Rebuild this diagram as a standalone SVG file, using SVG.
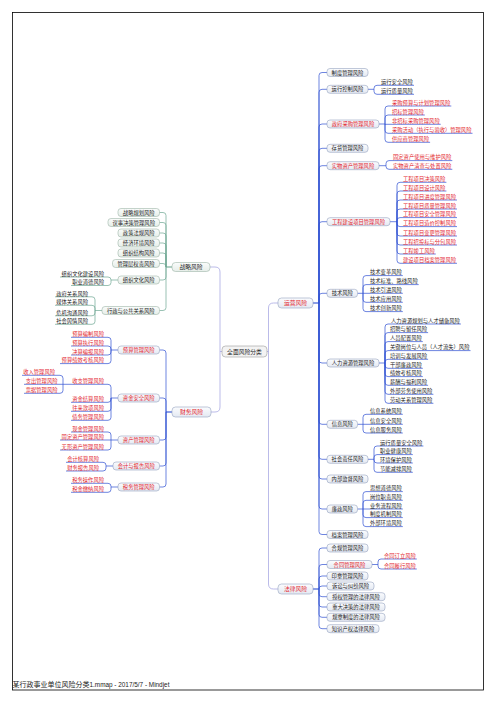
<svg xmlns="http://www.w3.org/2000/svg" width="496" height="702" viewBox="0 0 496 702">
<defs>
<linearGradient id="gb" x1="0" y1="0" x2="0" y2="1"><stop offset="0" stop-color="#fbfcfe"/><stop offset="1" stop-color="#e4e9f2"/></linearGradient>
<linearGradient id="gs" x1="0" y1="0" x2="0" y2="1"><stop offset="0" stop-color="#fafcfb"/><stop offset="1" stop-color="#e6eee9"/></linearGradient>
<style>
.b{fill:url(#gb);stroke:#95a2bf;stroke-width:0.6}
.bs{fill:url(#gs);stroke:#9db5a8;stroke-width:0.6}
.bc{fill:#f3f3f3;stroke:#9a9a9a;stroke-width:0.6}
.t{font-family:"Noto Sans CJK SC","Noto Sans",sans-serif;font-size:5.3px;fill:#222}
.m{text-anchor:middle}
.e{text-anchor:end}
.r{fill:#e3262e}
.k{font-size:5.8px}
.cs{fill:none;stroke:#6fa893;stroke-width:0.7}
.cf{fill:none;stroke:#2f50d2;stroke-width:0.7}
.cc{fill:none;stroke:#a9a9e3;stroke-width:0.8}
.cp{fill:none;stroke-width:1.1}
</style>
</defs>
<rect x="12.5" y="12.5" width="471" height="677.5" fill="none" stroke="#000" stroke-width="0.8"/>
<text x="12.5" y="687" style="font-family:'Noto Sans CJK SC','Liberation Sans',sans-serif;font-size:7px;fill:#222">某行政事业单位风险分类<tspan style="font-family:'Liberation Sans',sans-serif;font-size:6.4px">1.mmap - 2017/5/7 - Mindjet</tspan></text>

<g id="connectors">
<path class="cc" d="M210,267 H215 Q220,267 220,272 V407 Q220,412 215,412 H211 M222,351.5 H220"/>
<path class="cc" d="M278,303 H273.5 Q268.5,303 268.5,308 V584 Q268.5,589 273.5,589 H278 M267,351.5 H268.5"/>
<path class="cs cp" stroke="#3f7f6c" d="M172,267 H166"/>
<path class="cs" d="M166,267 V215.5 Q166,212.5 163,212.5 H159.5 M166,267 V225.5 Q166,222.5 163,222.5 H159.5 M166,267 V236 Q166,233 163,233 H159.5 M166,267 V246 Q166,243 163,243 H159.5 M166,267 V256 Q166,253 163,253 H159.5 M166,267 V266.5 Q166,263.5 163,263.5 H159.5 M166,267 V277 Q166,280 163,280 H159.5 M166,267 V307.5 Q166,310.5 163,310.5 H159.5"/>
<path class="cs" d="M118,280 H111 M111,280 Q111,277 108,277 H60 M111,280 V282.5 Q111,285.5 108,285.5 H71"/>
<path class="cs" d="M102,310.5 H95 M95,310.5 V299.8 Q95,296.8 92,296.8 H55 M95,310.5 V308.3 Q95,305.3 92,305.3 H55 M95,310.5 V312.8 Q95,315.8 92,315.8 H55 M95,310.5 V321.3 Q95,324.3 92,324.3 H55"/>
<path class="cf cp" d="M172,412 H166"/>
<path class="cf" d="M166,412 V353 Q166,350 163,350 H159.5 M166,412 V401 Q166,398 163,398 H159.5 M166,412 V437 Q166,440 163,440 H159.5 M166,412 V463 Q166,466 163,466 H159.5 M166,412 V484 Q166,487 163,487 H159.5"/>
<path class="cf" d="M118,350 H111 M111,350 V340.3 Q111,337.3 108,337.3 H71 M111,350 V349 Q111,346 108,346 H71 M111,350 V352 Q111,355 108,355 H71 M111,350 V360.6 Q111,363.6 108,363.6 H60"/>
<path class="cf" d="M118,398 H111 M111,398 V387.3 Q111,384.3 108,384.3 H63 M111,398 V399.3 Q111,402.3 108,402.3 H71 M111,398 V408.3 Q111,411.3 108,411.3 H71 M111,398 V417.3 Q111,420.3 108,420.3 H71"/>
<path class="cf" d="M63,384.3 V378.3 Q63,375.3 60,375.3 H22 M63,384.3 H24 M63,384.3 V390.3 Q63,393.3 60,393.3 H24"/>
<path class="cf" d="M118,440 H111 M111,440 V435 Q111,432 108,432 H71 M111,440 H60 M111,440 V447 Q111,450 108,450 H60"/>
<path class="cf" d="M113,466 H106 M106,466 V465.3 Q106,462.3 103,462.3 H66 M106,466 V468 Q106,471 103,471 H66"/>
<path class="cf" d="M118,487 H111 M111,487 V486.3 Q111,483.3 108,483.3 H71 M111,487 V489.3 Q111,492.3 108,492.3 H71"/>
<path class="cf cp" d="M313,303 H319"/>
<path class="cf" d="M319,303 V75.5 Q319,72.5 322,72.5 H327 M319,303 V92.3 Q319,89.3 322,89.3 H327 M319,303 V127 Q319,124 322,124 H327 M319,303 V151.3 Q319,148.3 322,148.3 H327 M319,303 V168.7 Q319,165.7 322,165.7 H327 M319,303 V224.7 Q319,221.7 322,221.7 H327 M319,303 V296.3 Q319,293.3 322,293.3 H327 M319,303 V360 Q319,363 322,363 H327 M319,303 V421.3 Q319,424.3 322,424.3 H327 M319,303 V456.3 Q319,459.3 322,459.3 H327 M319,303 V476 Q319,479 322,479 H327 M319,303 V506 Q319,509 322,509 H327 M319,303 V531.5 Q319,534.5 322,534.5 H327"/>
<path class="cf" d="M368,89.3 H374 M374,89.3 V88.3 Q374,85.3 377,85.3 H414 M374,89.3 V91.3 Q374,94.3 377,94.3 H414"/>
<path class="cf" d="M379,124 H385 M385,124 V109 Q385,106 388,106 H451.3 M385,124 V118 Q385,115 388,115 H424.8 M385,124 V124.3 H440.7 M385,124 V130.3 Q385,133.3 388,133.3 H472.5 M385,124 V139.3 Q385,142.3 388,142.3 H430.1"/>
<path class="cf" d="M379,165.7 H386 M386,165.7 V163.6 Q386,160.6 389,160.6 H452.3 M386,165.7 V166.3 Q386,169.3 389,169.3 H452.3"/>
<path class="cf" d="M390,221.7 H397 M397,221.7 V185.3 Q397,182.3 400,182.3 H446.4 M397,221.7 V194 Q397,191 400,191 H446.4 M397,221.7 V203 Q397,200 400,200 H457 M397,221.7 V212 Q397,209 400,209 H457 M397,221.7 V220.6 Q397,217.6 400,217.6 H457 M397,221.7 V223.6 Q397,226.6 400,226.6 H457 M397,221.7 V233 Q397,236 400,236 H457 M397,221.7 V242 Q397,245 400,245 H457 M397,221.7 V251 Q397,254 400,254 H435.8 M397,221.7 V260.3 Q397,263.3 400,263.3 H457"/>
<path class="cf" d="M357.5,293.3 H363 M363,293.3 V278.6 Q363,275.6 366,275.6 H402.8 M363,293.3 V287.6 Q363,284.6 366,284.6 H418.7 M363,293.3 H402.8 M363,293.3 V299.3 Q363,302.3 366,302.3 H402.8 M363,293.3 V308.6 Q363,311.6 366,311.6 H402.8"/>
<path class="cf" d="M379,363 H385 M385,363 V327 Q385,324 388,324 H460.9 M385,363 V335.6 Q385,332.6 388,332.6 H428.1 M385,363 V344.6 Q385,341.6 388,341.6 H422.8 M385,363 V353.6 Q385,350.6 388,350.6 H470.5 M385,363 V362.3 Q385,359.3 388,359.3 H428.1 M385,363 V365.3 Q385,368.3 388,368.3 H422.8 M385,363 V373.6 Q385,376.6 388,376.6 H422.8 M385,363 V382.3 Q385,385.3 388,385.3 H428.1 M385,363 V391.3 Q385,394.3 388,394.3 H433.4 M385,363 V400.3 Q385,403.3 388,403.3 H433.4"/>
<path class="cf" d="M357.5,424.3 H363 M363,424.3 V417.3 Q363,414.3 366,414.3 H402.8 M363,424.3 H402.8 M363,424.3 V430 Q363,433 366,433 H402.8"/>
<path class="cf" d="M368,459.3 H374 M374,459.3 V449 Q374,446 377,446 H423.4 M374,459.3 V457.6 Q374,454.6 377,454.6 H412.8 M374,459.3 V460 Q374,463 377,463 H412.8 M374,459.3 V469.3 Q374,472.3 377,472.3 H412.8"/>
<path class="cf" d="M357.5,509 H363 M363,509 V494.6 Q363,491.6 366,491.6 H402.8 M363,509 V503.3 Q363,500.3 366,500.3 H402.8 M363,509 H402.8 M363,509 V514.6 Q363,517.6 366,517.6 H402.8 M363,509 V523.6 Q363,526.6 366,526.6 H402.8"/>
<path class="cf cp" d="M313,589 H319"/>
<path class="cf" d="M319,589 V551 Q319,548 322,548 H327 M319,589 V567.5 Q319,564.5 322,564.5 H327 M319,589 V579 Q319,576 322,576 H327 M319,589 Q319,586 322,586 H327 M319,589 V593.7 Q319,596.7 322,596.7 H327 M319,589 V604 Q319,607 322,607 H327 M319,589 V614.3 Q319,617.3 322,617.3 H327 M319,589 V625.7 Q319,628.7 322,628.7 H327"/>
<path class="cf" d="M372,564.5 H378 M378,564.5 V562 Q378,559 381,559 H416.8 M378,564.5 V566 Q378,569 381,569 H416.8"/>
</g>

<g id="root"><rect class="bc" x="222" y="346" width="45" height="11" rx="3.5"/><text class="t m k" x="244.5" y="353.6">全面风险分类</text></g>

<g id="n-zl"><rect class="bs" x="172" y="262.5" width="38" height="9" rx="3.5"/><text class="t m k" x="191" y="269.1">战略风险</text></g>
<g id="n-zl1"><rect class="bs" x="118" y="208.5" width="41.5" height="8" rx="3"/><text class="t m" x="138.75" y="214.5">战略规划风险</text></g>
<g id="n-zl2"><rect class="bs" x="108" y="218.5" width="51.5" height="8" rx="3"/><text class="t m" x="133.75" y="224.5">议事决策管理风险</text></g>
<g id="n-zl3"><rect class="bs" x="118" y="229" width="41.5" height="8" rx="3"/><text class="t m" x="138.75" y="235">政策法规风险</text></g>
<g id="n-zl4"><rect class="bs" x="118" y="239" width="41.5" height="8" rx="3"/><text class="t m" x="138.75" y="245">经济环境风险</text></g>
<g id="n-zl5"><rect class="bs" x="118" y="249" width="41.5" height="8" rx="3"/><text class="t m" x="138.75" y="255">组织结构风险</text></g>
<g id="n-zl6"><rect class="bs" x="112.5" y="259.5" width="47" height="8" rx="3"/><text class="t m" x="136" y="265.5">管理层权责风险</text></g>
<g id="n-zl7"><rect class="bs" x="118" y="276" width="41.5" height="8" rx="3"/><text class="t m" x="138.75" y="282">组织文化风险</text></g>
<g id="n-zl7a"><text class="t e" x="104" y="276">组织文化建设风险</text></g>
<g id="n-zl7b"><text class="t e" x="104" y="284">职业道德风险</text></g>
<g id="n-zl8"><rect class="bs" x="102" y="306.5" width="57.5" height="8" rx="3"/><text class="t m" x="130.75" y="312.5">行政与公共关系风险</text></g>
<g id="n-zl8a"><text class="t e" x="88" y="295.5">政府关系风险</text></g>
<g id="n-zl8b"><text class="t e" x="88" y="304">媒体关系风险</text></g>
<g id="n-zl8c"><text class="t e" x="88" y="314.5">危机沟通风险</text></g>
<g id="n-zl8d"><text class="t e" x="88" y="323">社会舆情风险</text></g>

<g id="n-cw"><rect class="b" x="172" y="407" width="39" height="10" rx="3.5"/><text class="t m k r" x="191.5" y="414.1">财务风险</text></g>
<g id="n-cw1"><rect class="b" x="118" y="346" width="41.5" height="8" rx="3"/><text class="t m r" x="138.75" y="352">预算管理风险</text></g>
<g id="n-cw1a"><text class="t e r" x="104" y="336">预算编制风险</text></g>
<g id="n-cw1b"><text class="t e r" x="104" y="344.7">预算执行风险</text></g>
<g id="n-cw1c"><text class="t e r" x="104" y="353.7">决算编报风险</text></g>
<g id="n-cw1d"><text class="t e r" x="104" y="362.3">预算绩效考核风险</text></g>
<g id="n-cw2"><rect class="b" x="118" y="394" width="41.5" height="8" rx="3"/><text class="t m r" x="138.75" y="400">资金安全风险</text></g>
<g id="n-cw2a"><text class="t e r" x="104" y="383">收支管理风险</text></g>
<g id="n-cw2a1"><text class="t e r" x="55" y="374">收入管理风险</text></g>
<g id="n-cw2a2"><text class="t e r" x="57.5" y="383">支出管理风险</text></g>
<g id="n-cw2a3"><text class="t e r" x="57.5" y="392">票据管理风险</text></g>
<g id="n-cw2b"><text class="t e r" x="104" y="401">资金结算风险</text></g>
<g id="n-cw2c"><text class="t e r" x="104" y="410">往来款项风险</text></g>
<g id="n-cw2d"><text class="t e r" x="104" y="419">债务管理风险</text></g>
<g id="n-cw3"><rect class="b" x="118" y="436" width="41.5" height="8" rx="3"/><text class="t m r" x="138.75" y="442">资产管理风险</text></g>
<g id="n-cw3a"><text class="t e r" x="104" y="430.7">现金管理风险</text></g>
<g id="n-cw3b"><text class="t e r" x="104" y="438.7">固定资产管理风险</text></g>
<g id="n-cw3c"><text class="t e r" x="104" y="448.7">无形资产管理风险</text></g>
<g id="n-cw4"><rect class="b" x="113" y="462" width="46.5" height="8" rx="3"/><text class="t m r" x="136.25" y="468">会计与报告风险</text></g>
<g id="n-cw4a"><text class="t e r" x="99" y="461">会计核算风险</text></g>
<g id="n-cw4b"><text class="t e r" x="99" y="469.7">财务报告风险</text></g>
<g id="n-cw5"><rect class="b" x="118" y="483" width="41.5" height="8" rx="3"/><text class="t m r" x="138.75" y="489">税务管理风险</text></g>
<g id="n-cw5a"><text class="t e r" x="104" y="482">税务操作风险</text></g>
<g id="n-cw5b"><text class="t e r" x="104" y="491">税金缴纳风险</text></g>

<g id="n-yy"><rect class="b" x="278" y="298" width="35" height="10" rx="3.5"/><text class="t m k r" x="295.5" y="305.1">运营风险</text></g>
<g id="n-yy1"><rect class="b" x="327" y="68.5" width="41" height="8" rx="3"/><text class="t m" x="347.5" y="74.5">制度管理风险</text></g>
<g id="n-yy2"><rect class="b" x="327" y="85.3" width="41" height="8" rx="3"/><text class="t m" x="347.5" y="91.3">运行控制风险</text></g>
<g id="n-yy2a"><text class="t" x="381" y="84">运行安全风险</text></g>
<g id="n-yy2b"><text class="t" x="381" y="93">运行质量风险</text></g>
<g id="n-yy3"><rect class="b" x="327" y="120" width="52" height="8" rx="3"/><text class="t m r" x="353" y="126">政府采购管理风险</text></g>
<g id="n-yy3a"><text class="t r" x="392" y="104.7">采购预算与计划管理风险</text></g>
<g id="n-yy3b"><text class="t r" x="392" y="113.7">招标管理风险</text></g>
<g id="n-yy3c"><text class="t r" x="392" y="123">非招标采购管理风险</text></g>
<g id="n-yy3d"><text class="t r" x="392" y="132">采购活动（执行与验收）管理风险</text></g>
<g id="n-yy3e"><text class="t r" x="392" y="141">供应商管理风险</text></g>
<g id="n-yy4"><rect class="b" x="327" y="144.3" width="41" height="8" rx="3"/><text class="t m" x="347.5" y="150.3">存货管理风险</text></g>
<g id="n-yy5"><rect class="b" x="327" y="161.7" width="52" height="8" rx="3"/><text class="t m r" x="353" y="167.7">实物资产管理风险</text></g>
<g id="n-yy5a"><text class="t r" x="393" y="159.3">固定资产使用与维护风险</text></g>
<g id="n-yy5b"><text class="t r" x="393" y="168">实物资产清查与处置风险</text></g>
<g id="n-yy6"><rect class="b" x="327" y="217.7" width="63" height="8" rx="3"/><text class="t m r" x="358.5" y="223.7">工程建设项目管理风险</text></g>
<g id="n-yy6a"><text class="t r" x="403" y="181">工程项目决策风险</text></g>
<g id="n-yy6b"><text class="t r" x="403" y="189.7">工程项目设计风险</text></g>
<g id="n-yy6c"><text class="t r" x="403" y="198.7">工程项目进度管理风险</text></g>
<g id="n-yy6d"><text class="t r" x="403" y="207.7">工程项目质量管理风险</text></g>
<g id="n-yy6e"><text class="t r" x="403" y="216.3">工程项目安全管理风险</text></g>
<g id="n-yy6f"><text class="t r" x="403" y="225.3">工程项目造价控制风险</text></g>
<g id="n-yy6g"><text class="t r" x="403" y="234.7">工程项目变更管理风险</text></g>
<g id="n-yy6h"><text class="t r" x="403" y="243.7">工程招投标与分包风险</text></g>
<g id="n-yy6i"><text class="t r" x="403" y="252.7">工程竣工风险</text></g>
<g id="n-yy6j"><text class="t r" x="403" y="262">建设项目档案管理风险</text></g>
<g id="n-yy7"><rect class="b" x="327" y="289.3" width="30.5" height="8" rx="3"/><text class="t m" x="342.25" y="295.3">技术风险</text></g>
<g id="n-yy7a"><text class="t" x="370" y="274.3">技术变革风险</text></g>
<g id="n-yy7b"><text class="t" x="370" y="283.3">技术标准、路线风险</text></g>
<g id="n-yy7c"><text class="t" x="370" y="292">技术引进风险</text></g>
<g id="n-yy7d"><text class="t" x="370" y="301">技术应用风险</text></g>
<g id="n-yy7e"><text class="t" x="370" y="310.3">技术创新风险</text></g>
<g id="n-yy8"><rect class="b" x="327" y="359" width="52" height="8" rx="3"/><text class="t m" x="353" y="365">人力资源管理风险</text></g>
<g id="n-yy8a"><text class="t" x="391" y="322.7">人力资源规划与人才储备风险</text></g>
<g id="n-yy8b"><text class="t" x="390" y="331.3">招聘与留任风险</text></g>
<g id="n-yy8c"><text class="t" x="390" y="340.3">人员配置风险</text></g>
<g id="n-yy8d"><text class="t" x="390" y="349.3">关键岗位与人员（人才流失）风险</text></g>
<g id="n-yy8e"><text class="t" x="390" y="358">培训与发展风险</text></g>
<g id="n-yy8f"><text class="t" x="390" y="367">干部廉政风险</text></g>
<g id="n-yy8g"><text class="t" x="390" y="375.3">绩效考核风险</text></g>
<g id="n-yy8h"><text class="t" x="390" y="384">薪酬与福利风险</text></g>
<g id="n-yy8i"><text class="t" x="390" y="393">外部劳务使用风险</text></g>
<g id="n-yy8j"><text class="t" x="390" y="402">劳动关系管理风险</text></g>
<g id="n-yy9"><rect class="b" x="327" y="420.3" width="30.5" height="8" rx="3"/><text class="t m" x="342.25" y="426.3">信息风险</text></g>
<g id="n-yy9a"><text class="t" x="370" y="413">信息系统风险</text></g>
<g id="n-yy9b"><text class="t" x="370" y="423">信息安全风险</text></g>
<g id="n-yy9c"><text class="t" x="370" y="431.7">信息服务风险</text></g>
<g id="n-yy10"><rect class="b" x="327" y="455.3" width="41" height="8" rx="3"/><text class="t m" x="347.5" y="461.3">社会责任风险</text></g>
<g id="n-yy10a"><text class="t" x="380" y="444.7">运行质量安全风险</text></g>
<g id="n-yy10b"><text class="t" x="380" y="453.3">职业健康风险</text></g>
<g id="n-yy10c"><text class="t" x="380" y="461.7">环境保护风险</text></g>
<g id="n-yy10d"><text class="t" x="380" y="471">节能减排风险</text></g>
<g id="n-yy11"><rect class="b" x="327" y="475" width="41" height="8" rx="3"/><text class="t m" x="347.5" y="481">内部监督风险</text></g>
<g id="n-yy12"><rect class="b" x="327" y="505" width="30.5" height="8" rx="3"/><text class="t m" x="342.25" y="511">廉政风险</text></g>
<g id="n-yy12a"><text class="t" x="370" y="490.3">思想道德风险</text></g>
<g id="n-yy12b"><text class="t" x="370" y="499">岗位职责风险</text></g>
<g id="n-yy12c"><text class="t" x="370" y="507.7">业务流程风险</text></g>
<g id="n-yy12d"><text class="t" x="370" y="516.3">制度机制风险</text></g>
<g id="n-yy12e"><text class="t" x="370" y="525.3">外部环境风险</text></g>
<g id="n-yy13"><rect class="b" x="327" y="530.5" width="41" height="8" rx="3"/><text class="t m" x="347.5" y="536.5">档案管理风险</text></g>

<g id="n-fl"><rect class="b" x="278" y="584" width="35" height="10" rx="3.5"/><text class="t m k r" x="295.5" y="591.1">法律风险</text></g>
<g id="n-fl1"><rect class="b" x="327" y="544" width="41" height="8" rx="3"/><text class="t m" x="347.5" y="550">合规管理风险</text></g>
<g id="n-fl2"><rect class="b" x="327" y="560.5" width="45" height="8" rx="3"/><text class="t m r" x="349.5" y="566.5">合同管理风险</text></g>
<g id="n-fl2a"><text class="t r" x="384" y="557.7">合同订立风险</text></g>
<g id="n-fl2b"><text class="t r" x="384" y="567.7">合同履行风险</text></g>
<g id="n-fl3"><rect class="b" x="327" y="572" width="41" height="8" rx="3"/><text class="t m" x="347.5" y="578">印章管理风险</text></g>
<g id="n-fl4"><rect class="b" x="327" y="582" width="47" height="8" rx="3"/><text class="t m" x="350.5" y="588">诉讼与纠纷风险</text></g>
<g id="n-fl5"><rect class="b" x="327" y="592.7" width="58" height="8" rx="3"/><text class="t m" x="356" y="598.7">授权管理的法律风险</text></g>
<g id="n-fl6"><rect class="b" x="327" y="603" width="58" height="8" rx="3"/><text class="t m" x="356" y="609">重大决策的法律风险</text></g>
<g id="n-fl7"><rect class="b" x="327" y="613.3" width="58" height="8" rx="3"/><text class="t m" x="356" y="619.3">规章制度的法律风险</text></g>
<g id="n-fl8"><rect class="b" x="327" y="624.7" width="52" height="8" rx="3"/><text class="t m" x="353" y="630.7">知识产权法律风险</text></g>
</svg>
